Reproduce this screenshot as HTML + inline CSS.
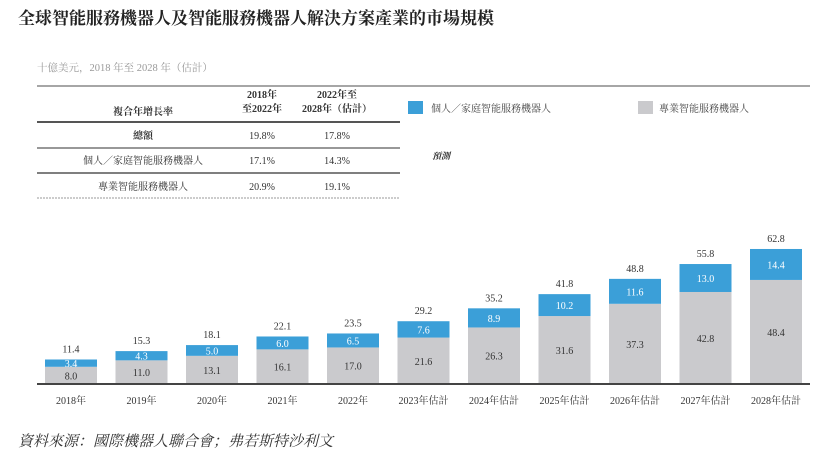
<!DOCTYPE html>
<html><head><meta charset="utf-8">
<style>
body{margin:0;background:#fff;width:836px;height:456px;overflow:hidden;font-family:"Liberation Serif","Noto Serif CJK SC",serif;}
svg text{font-family:"Liberation Serif","Noto Serif CJK SC",serif;}
</style></head><body>
<svg width="836" height="456">
<text x="18" y="24" font-size="17" font-weight="bold" fill="#222">全球智能服務機器人及智能服務機器人解決方案產業的市場規模</text>
<text x="37" y="71" font-size="10.5" fill="#999">十億美元，2018 年至 2028 年（估計）</text>
<g>
<line x1="37" y1="86" x2="810" y2="86" stroke="#888" stroke-width="1.5"/>
<text x="143" y="115" font-size="10" font-weight="bold" text-anchor="middle" fill="#333">複合年增長率</text>
<text x="262" y="98" font-size="10" font-weight="bold" text-anchor="middle" fill="#333">2018年</text>
<text x="262" y="112" font-size="10" font-weight="bold" text-anchor="middle" fill="#333">至2022年</text>
<text x="337" y="98" font-size="10" font-weight="bold" text-anchor="middle" fill="#333">2022年至</text>
<text x="337" y="112" font-size="10" font-weight="bold" text-anchor="middle" fill="#333">2028年（估計）</text>
<line x1="37" y1="122" x2="400" y2="122" stroke="#555" stroke-width="2"/>
<text x="143" y="139" font-size="10" font-weight="bold" text-anchor="middle" fill="#333">總額</text>
<text x="262" y="139" font-size="10" text-anchor="middle" fill="#333">19.8%</text>
<text x="337" y="139" font-size="10" text-anchor="middle" fill="#333">17.8%</text>
<line x1="37" y1="148" x2="400" y2="148" stroke="#777" stroke-width="1.5"/>
<text x="143" y="164" font-size="10" text-anchor="middle" fill="#333">個人／家庭智能服務機器人</text>
<text x="262" y="164" font-size="10" text-anchor="middle" fill="#333">17.1%</text>
<text x="337" y="164" font-size="10" text-anchor="middle" fill="#333">14.3%</text>
<line x1="37" y1="173" x2="400" y2="173" stroke="#555" stroke-width="1.5"/>
<text x="143" y="190" font-size="10" text-anchor="middle" fill="#333">專業智能服務機器人</text>
<text x="262" y="190" font-size="10" text-anchor="middle" fill="#333">20.9%</text>
<text x="337" y="190" font-size="10" text-anchor="middle" fill="#333">19.1%</text>
<line x1="37" y1="198" x2="400" y2="198" stroke="#999" stroke-width="1" stroke-dasharray="2,1"/>
</g>
<g>
<rect x="408" y="101" width="15" height="13" fill="#3b9fd8"/>
<text x="431" y="112" font-size="10" fill="#444">個人／家庭智能服務機器人</text>
<rect x="638" y="101" width="15" height="13" fill="#cacacd"/>
<text x="659" y="112" font-size="10" fill="#444">專業智能服務機器人</text>
<text x="432" y="159" font-size="9" font-weight="bold" font-style="italic" fill="#333">預測</text>
</g>
<g id="bars"></g>
<line x1="37" y1="384" x2="810" y2="384" stroke="#444" stroke-width="2"/>
<text x="18" y="446" font-size="15" font-style="italic" fill="#333">資料來源：國際機器人聯合會；弗若斯特沙利文</text>
</svg>
<script>
const categories=["2018年","2019年","2020年","2021年","2022年","2023年估計","2024年估計","2025年估計","2026年估計","2027年估計","2028年估計"];
const professional=[8.0,11.0,13.1,16.1,17.0,21.6,26.3,31.6,37.3,42.8,48.4];
const personal=[3.4,4.3,5.0,6.0,6.5,7.6,8.9,10.2,11.6,13.0,14.4];
const totals=[11.4,15.3,18.1,22.1,23.5,29.2,35.2,41.8,48.8,55.8,62.8];
const NS="http://www.w3.org/2000/svg";
const g=document.getElementById('bars');
const base=384,k=2.15,x0=71,step=70.5,bw=52;
const xs=i=>x0+i*step, ys=v=>base-v*k;
function mk(tag,attrs,txt){const e=document.createElementNS(NS,tag);for(const a in attrs)e.setAttribute(a,attrs[a]);if(txt!=null)e.textContent=txt;g.appendChild(e);return e;}
categories.forEach((c,i)=>{
 const cx=xs(i),p=professional[i],q=personal[i],t=totals[i];
 const yp=ys(p),yt=ys(p+q);
 let r=mk('rect',{x:cx-bw/2,y:yp,width:bw,height:base-yp,fill:'#cacacd'});
 
 
 r=mk('rect',{x:cx-bw/2,y:yt,width:bw,height:yp-yt,fill:'#3b9fd8'});
 
 
 let l=mk('text',{x:cx,y:(yp+base)/2+4,'font-size':10,'text-anchor':'middle',fill:'#333'},p.toFixed(1));
 
 
 l=mk('text',{x:cx,y:(yt+yp)/2+4,'font-size':10,'text-anchor':'middle',fill:'#fff'},q.toFixed(1));
 
 
 l=mk('text',{x:cx,y:yt-7,'font-size':10,'text-anchor':'middle',fill:'#333'},t.toFixed(1));
 
 
 l=mk('text',{x:cx,y:404,'font-size':10,'text-anchor':'middle',fill:'#333'},c);
 
 
});
</script>
</body></html>
